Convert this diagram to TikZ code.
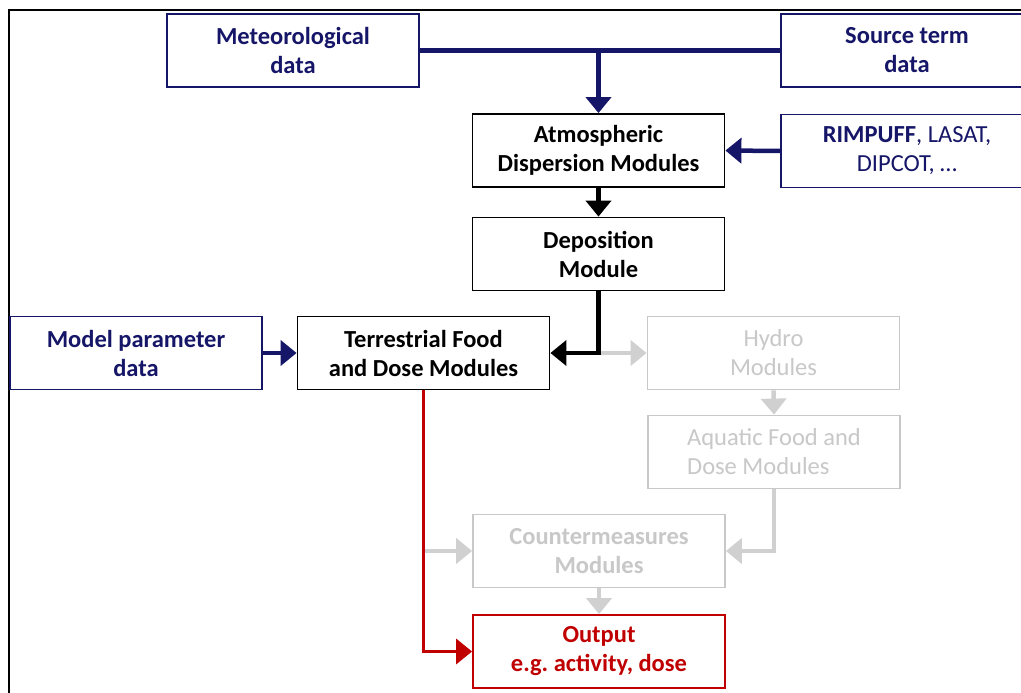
\documentclass[tikz,border=0pt]{standalone}
\usepackage{fontspec}
\setmainfont{Carlito}
\usetikzlibrary{arrows.meta}
\definecolor{navy}{RGB}{22,22,104}
\definecolor{dred}{RGB}{192,0,0}
\definecolor{lgray}{RGB}{208,208,208}
\definecolor{tgray}{RGB}{200,200,200}
\frenchspacing
\begin{document}
\begin{tikzpicture}[x=1pt,y=-1pt,
  box/.style={draw, line width=1.8pt, minimum width=252pt, minimum height=73pt, inner sep=2pt,
    align=center, font=\fontsize{24.5}{29}\selectfont\bfseries},
  navybox/.style={box, draw=navy, text=navy},
  blackbox/.style={box, draw=black, text=black},
  graybox/.style={box, draw=tgray, text=tgray},
  redbox/.style={box, draw=dred, text=dred},
  tip/.style={-{Triangle[width=25pt,length=16pt]}},
  conn/.style={line width=4.5pt},
]
\useasboundingbox (0,0) rectangle (1021,693);
\clip (0,0) rectangle (1021,693);
\fill[white] (0,0) rectangle (1021,693);
\draw[line width=2pt] (9,10) rectangle (1045,710);

\node[navybox] (met) at (293,50.5) {Meteorological\\data};
\node[navybox] (src) at (907,50.5) {Source term\\data};
\node[blackbox] (atm) at (598.5,150.5) {Atmospheric\\Dispersion Modules};
\node[navybox, font=\fontsize{24.5}{29}\selectfont] (rim) at (907,151) {\textbf{RIMPUFF}, LASAT,\\DIPCOT, \dots};
\node[blackbox] (dep) at (598.5,254) {Deposition\\Module};
\node[navybox] (mpd) at (136,353) {Model parameter\\data};
\node[blackbox] (ter) at (423.5,353) {Terrestrial Food\\and Dose Modules};
\node[graybox, font=\fontsize{24.5}{29}\selectfont] (hyd) at (773.5,353) {Hydro\\Modules};
\node[graybox, font=\fontsize{24.5}{29}\selectfont, align=left] (aqu) at (774,452) {Aquatic Food and\\Dose Modules};
\node[graybox] (cm) at (599,551) {Countermeasures\\Modules};
\node[redbox] (out) at (599,651.5) {Output\\e.g. activity, dose};

\coordinate (j1) at (atm.north |- met.east);
\coordinate (j2) at (dep.south |- ter.east);
\coordinate (j3) at (ter.south |- cm.west);
\coordinate (j4) at (ter.south |- out.west);
\coordinate (j5) at (aqu.south |- cm.east);

% gray connectors
\draw[conn, lgray, tip] (j2) -- (hyd.west);
\draw[conn, lgray, tip] (hyd.south) -- (aqu.north);
\draw[conn, lgray, tip] (j3) -- (cm.west);
\draw[conn, lgray, tip] (aqu.south) -- (j5) -- (cm.east);
\draw[conn, lgray, tip] (cm.south) -- (out.north);

% navy connectors
\draw[conn, navy] (met.east) -- (src.west);
\draw[conn, navy, tip] (j1) -- (atm.north);
\draw[conn, navy, tip] (rim.west) -- (atm.east);
\draw[conn, navy, tip] (mpd.east) -- (ter.west);

% black connectors
\draw[conn, black, tip] (atm.south) -- (dep.north);
\draw[conn, black, tip] (dep.south) -- (j2) -- (ter.east);

% red connector
\draw[line width=3.5pt, dred, tip] (ter.south) -- (j4) -- (out.west);
\end{tikzpicture}
\end{document}
